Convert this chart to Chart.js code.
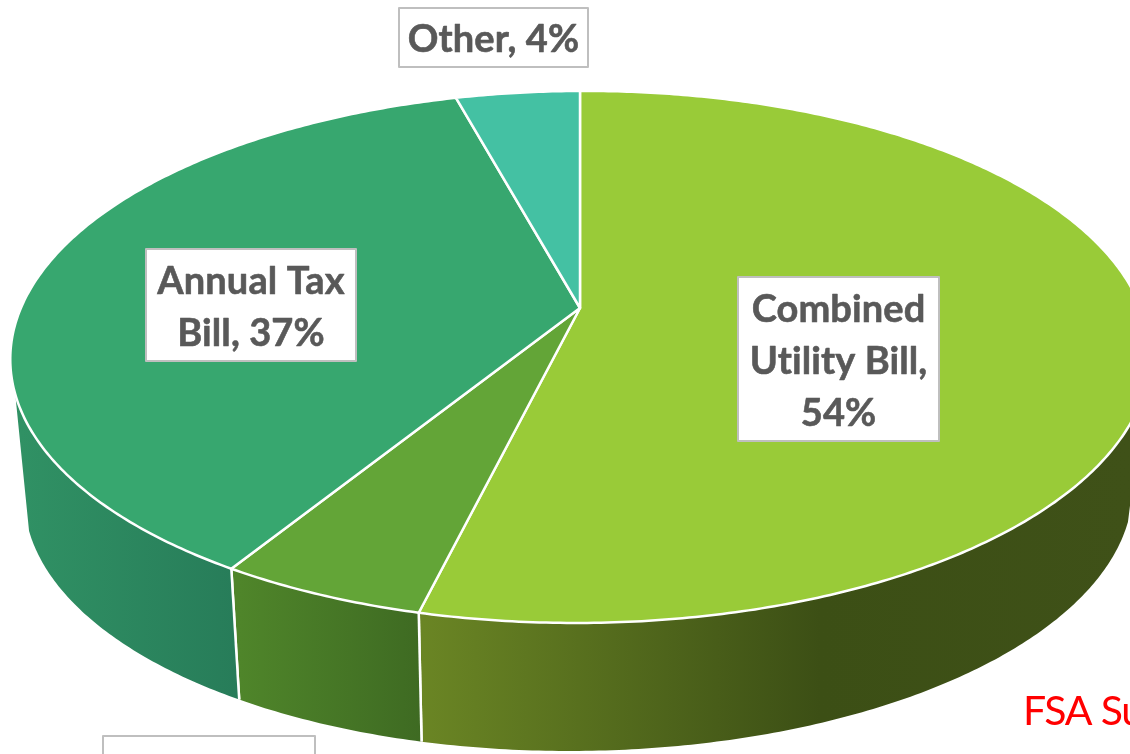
<!DOCTYPE html>
<html>
<head>
<meta charset="utf-8">
<style>html,body{margin:0;padding:0;background:#fff;overflow:hidden}canvas{display:block;filter:blur(0.4px)}</style>
<script src="https://cdn.jsdelivr.net/npm/chart.js@4"></script>
</head>
<body>
<canvas id="c" width="1130" height="754"></canvas>
<script>
const categories = ["Combined Utility Bill", "Sewer", "Annual Tax Bill", "Other"];
const shares = [53.8, 5.0, 37.0, 4.2];
const topColors = ["#99CB38", "#63A537", "#37A76F", "#44C1A3"];
const wallStops = [
  [[424, "#6A8524"], [820, "#3C4F15"], [1130, "#3F5118"]],
  [[240, "#4F852A"], [424, "#3E6A22"]],
  [[20, "#309164"], [240, "#277C59"]],
  [[0, "#309164"], [1, "#309164"]]
];
const labelBoxes = [
  {x: 738, y: 277, w: 201, h: 164, base: [322, 374, 426]},
  {x: 103, y: 736, w: 212, h: 60, base: [785]},
  {x: 146, y: 249, w: 210, h: 112, base: [294, 346]},
  {x: 399, y: 8, w: 189, h: 59, base: [52]}
];
const noteLines = ["FSA Survey", "38%"];

const P = {cx: 580, cy: 308, a: 560, b: 257, k: 0.184, bx: 578.5, by: 444.5, bs: 0.973, tiltTop: 0.004, tiltBottom: 0.008};
function proj(t, bottom) {
  const X = Math.cos(t), Y = Math.sin(t), w = 1 - P.k * Y;
  const x = P.a * X / w, y = P.b * Y / w;
  return bottom
    ? [P.bx + P.bs * x, P.by + P.bs * y - P.tiltBottom * x]
    : [P.cx + x, P.cy + y - P.tiltTop * x];
}
function arcTo(ctx, from, to, bottom) {
  const n = Math.max(4, Math.ceil(Math.abs(to - from) / 0.01));
  for (let i = 0; i <= n; i++) {
    const p = proj(from + (to - from) * i / n, bottom);
    ctx.lineTo(p[0], p[1]);
  }
}
const T0 = 18 * Math.PI / 180, T1 = 162 * Math.PI / 180;
function wrap(ctx, text, maxW) {
  const out = []; let line = "";
  text.split(" ").forEach(word => {
    const next = line ? line + " " + word : word;
    if (line && ctx.measureText(next).width > maxW) { out.push(line); line = word; }
    else line = next;
  });
  out.push(line);
  return out;
}
const pie3d = {
  id: "pie3d",
  beforeDatasetDraw(chart) {
    const ctx = chart.ctx, arcs = chart.getDatasetMeta(0).data;
    arcs.forEach((arc, i) => {
      const opt = arc.options;
      const s = Math.max(arc.startAngle, T0), e = Math.min(arc.endAngle, T1);
      if (e <= s) return;
      const stops = wallStops[i];
      const g = ctx.createLinearGradient(stops[0][0], 0, stops[stops.length - 1][0], 0);
      stops.forEach(st => g.addColorStop((st[0] - stops[0][0]) / (stops[stops.length - 1][0] - stops[0][0]), st[1]));
      ctx.beginPath();
      arcTo(ctx, s, e, false);
      arcTo(ctx, e, s, true);
      ctx.closePath();
      ctx.fillStyle = g;
      ctx.fill();
      ctx.strokeStyle = opt.borderColor;
      ctx.lineWidth = opt.borderWidth;
      [s, e].forEach(t => {
        if (t === T0 || t === T1) return;
        const a = proj(t, false), b = proj(t, true);
        ctx.beginPath(); ctx.moveTo(a[0], a[1]); ctx.lineTo(b[0], b[1]); ctx.stroke();
      });
    });
    arcs.forEach(arc => {
      const opt = arc.options;
      ctx.beginPath();
      ctx.moveTo(P.cx, P.cy);
      arcTo(ctx, arc.startAngle, arc.endAngle, false);
      ctx.closePath();
      ctx.fillStyle = opt.backgroundColor;
      ctx.fill();
      ctx.strokeStyle = opt.borderColor;
      ctx.lineWidth = opt.borderWidth;
      ctx.lineJoin = "round";
      ctx.stroke();
    });
    return false;
  },
  afterDatasetsDraw(chart) {
    const ctx = chart.ctx;
    ctx.save();
    ctx.font = "bold 38px Lato";
    ctx.letterSpacing = "0.1px";
    ctx.textAlign = "center";
    ctx.textBaseline = "alphabetic";
    chart.data.labels.forEach((name, i) => {
      const b = labelBoxes[i];
      ctx.fillStyle = "#fff";
      ctx.fillRect(b.x, b.y, b.w, b.h);
      ctx.strokeStyle = "#BFBFBF";
      ctx.lineWidth = 2;
      ctx.strokeRect(b.x, b.y, b.w, b.h);
      ctx.fillStyle = "#595959";
      ctx.strokeStyle = "#595959";
      ctx.lineWidth = 0.6;
      const text = name + ", " + Math.round(chart.data.datasets[0].data[i]) + "%";
      wrap(ctx, text, b.w - 4).forEach((ln, j) => {
        ctx.fillText(ln, b.x + b.w / 2, b.base[j]);
        ctx.strokeText(ln, b.x + b.w / 2, b.base[j]);
      });
    });
    ctx.font = "41px Lato";
    ctx.letterSpacing = "-1.2px";
    ctx.fillStyle = "#FF0000";
    ctx.textAlign = "left";
    ctx.fillText(noteLines[0], 1023, 725);
    ctx.fillText(noteLines[1], 1031, 783);
    ctx.restore();
  }
};
new Chart(document.getElementById("c"), {
  type: "pie",
  data: {labels: categories, datasets: [{data: shares, backgroundColor: topColors, borderColor: "#FFFFFF", borderWidth: 2.5}]},
  options: {
    responsive: false, animation: false,
    plugins: {legend: {display: false}, tooltip: {enabled: false}}
  },
  plugins: [pie3d]
});
</script>
</body>
</html>
